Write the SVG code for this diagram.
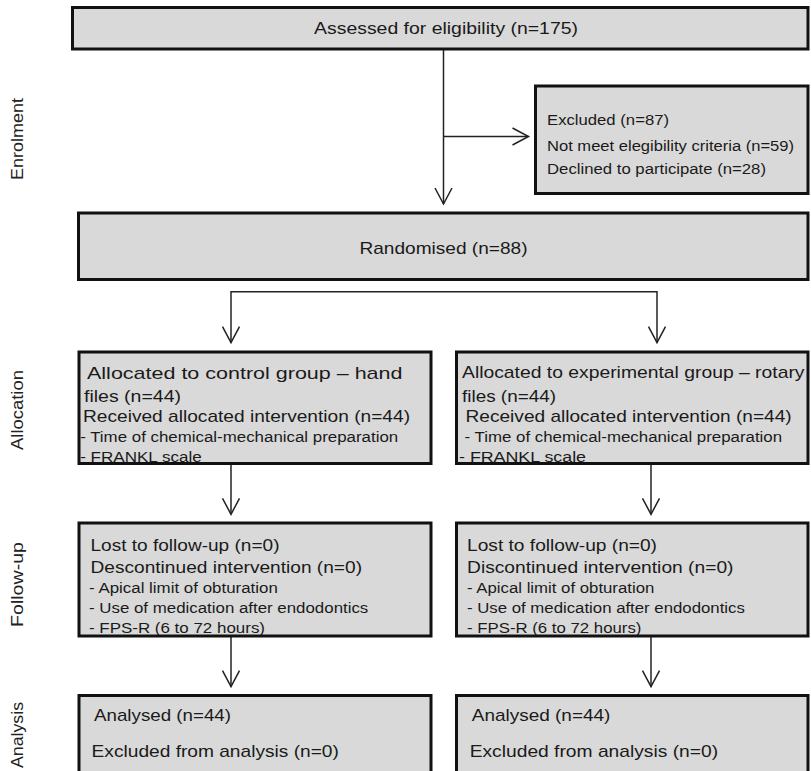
<svg xmlns="http://www.w3.org/2000/svg" width="811" height="771" viewBox="0 0 811 771">
<defs>
<style>
.bg{fill:#ffffff}
.fill{fill:#d9d9d9;stroke:none}
.frame{fill:none;stroke:#111111;stroke-width:3}
text{font-family:"Liberation Sans",Arial,sans-serif;fill:#1a1a1a}
.m{font-size:17px}
.s{font-size:14px}
.side{font-size:17px;fill:#222222}
.conn{fill:none;stroke:#222222;stroke-width:1.5}
</style>
<marker id="arr" viewBox="-18 -10 20 20" refX="0" refY="0" markerWidth="20" markerHeight="20" markerUnits="userSpaceOnUse" orient="auto">
<path d="M-16,-8.5 L0,0 L-16,8.5" fill="none" stroke="#222222" stroke-width="1.5"/>
</marker>
</defs>
<rect class="bg" x="0" y="0" width="811" height="771"/>

<g id="side-labels">
<text class="side" transform="translate(23,139) rotate(-90)" text-anchor="middle" textLength="82" lengthAdjust="spacingAndGlyphs">Enrolment</text>
<text class="side" transform="translate(23,410) rotate(-90)" text-anchor="middle" textLength="80" lengthAdjust="spacingAndGlyphs">Allocation</text>
<text class="side" transform="translate(23,584.5) rotate(-90)" text-anchor="middle" textLength="85" lengthAdjust="spacingAndGlyphs">Follow-up</text>
<text class="side" transform="translate(23,735) rotate(-90)" text-anchor="middle" textLength="66" lengthAdjust="spacingAndGlyphs">Analysis</text>
</g>

<g id="connectors">
<line class="conn" x1="443.5" y1="50" x2="443.5" y2="204" marker-end="url(#arr)"/>
<line class="conn" x1="443.5" y1="136.5" x2="528.5" y2="136.5" marker-end="url(#arr)"/>
<line class="conn" x1="231" y1="291.7" x2="657" y2="291.7"/>
<line class="conn" x1="231" y1="291" x2="231" y2="342.7" marker-end="url(#arr)"/>
<line class="conn" x1="657" y1="291" x2="657" y2="342.7" marker-end="url(#arr)"/>
<line class="conn" x1="231" y1="464" x2="231" y2="514.3" marker-end="url(#arr)"/>
<line class="conn" x1="651" y1="464" x2="651" y2="514.3" marker-end="url(#arr)"/>
<line class="conn" x1="231" y1="637" x2="231" y2="686.7" marker-end="url(#arr)"/>
<line class="conn" x1="651" y1="637" x2="651" y2="686.7" marker-end="url(#arr)"/>
</g>

<g id="assessed">
<rect class="fill" x="72.5" y="7.5" width="735.5" height="41.5"/>
<text class="m" x="314" y="34" font-size="16.5" textLength="264" lengthAdjust="spacingAndGlyphs">Assessed for eligibility  (n=175)</text>
<rect class="frame" x="72.5" y="7.5" width="735.5" height="41.5"/>
</g>

<g id="excluded">
<rect class="fill" x="535.5" y="86" width="272.5" height="107.5"/>
<text class="s" x="547" y="125" textLength="122" lengthAdjust="spacingAndGlyphs">Excluded (n=87)</text>
<text class="s" x="547" y="151" textLength="247" lengthAdjust="spacingAndGlyphs">Not meet elegibility criteria (n=59)</text>
<text class="s" x="547" y="174" textLength="219" lengthAdjust="spacingAndGlyphs">Declined to participate (n=28)</text>
<rect class="frame" x="535.5" y="86" width="272.5" height="107.5"/>
</g>

<g id="randomised">
<rect class="fill" x="78.5" y="213" width="729.5" height="66.5"/>
<text class="m" x="359.5" y="254" textLength="168" lengthAdjust="spacingAndGlyphs">Randomised (n=88)</text>
<rect class="frame" x="78.5" y="213" width="729.5" height="66.5"/>
</g>

<g id="alloc-control">
<rect class="fill" x="79" y="352" width="352" height="111.5"/>
<text class="m" x="87" y="378.5" textLength="315.5" lengthAdjust="spacingAndGlyphs">Allocated  to  control  group  –  hand</text>
<text class="m" x="84" y="401.5" textLength="97" lengthAdjust="spacingAndGlyphs">files (n=44)</text>
<text class="m" x="83" y="421.5" font-size="18" textLength="327" lengthAdjust="spacingAndGlyphs">Received allocated intervention (n=44)</text>
<text class="s" x="80.2" y="441.5" textLength="318" lengthAdjust="spacingAndGlyphs">- Time of chemical-mechanical preparation</text>
<text class="s" x="80.2" y="461.5" textLength="121.5" lengthAdjust="spacingAndGlyphs">- FRANKL scale</text>
<rect class="frame" x="79" y="352" width="352" height="111.5"/>
</g>

<g id="alloc-experimental">
<rect class="fill" x="456.5" y="352" width="351.5" height="111.5"/>
<text class="m" x="462" y="378" textLength="342.5" lengthAdjust="spacingAndGlyphs">Allocated to experimental group – rotary</text>
<text class="m" x="462" y="401.5" textLength="94" lengthAdjust="spacingAndGlyphs">files (n=44)</text>
<text class="m" x="465.6" y="421.5" font-size="18" textLength="326" lengthAdjust="spacingAndGlyphs">Received  allocated  intervention  (n=44)</text>
<text class="s" x="464.6" y="441.5" textLength="317.5" lengthAdjust="spacingAndGlyphs">- Time of chemical-mechanical preparation</text>
<text class="s" x="459" y="461.5" textLength="127" lengthAdjust="spacingAndGlyphs">- FRANKL scale</text>
<rect class="frame" x="456.5" y="352" width="351.5" height="111.5"/>
</g>

<g id="followup-control">
<rect class="fill" x="79" y="523" width="352" height="113"/>
<text class="m" x="90.5" y="550.7" textLength="189" lengthAdjust="spacingAndGlyphs">Lost to follow-up (n=0)</text>
<text class="m" x="90.5" y="573.3" textLength="271.5" lengthAdjust="spacingAndGlyphs">Descontinued  intervention  (n=0)</text>
<text class="s" x="89" y="593.3" textLength="188.8" lengthAdjust="spacingAndGlyphs">- Apical limit of obturation</text>
<text class="s" x="89" y="613.3" textLength="279.3" lengthAdjust="spacingAndGlyphs">- Use of medication after endodontics</text>
<text class="s" x="89" y="633.3" textLength="176" lengthAdjust="spacingAndGlyphs">- FPS-R (6 to 72 hours)</text>
<rect class="frame" x="79" y="523" width="352" height="113"/>
</g>

<g id="followup-experimental">
<rect class="fill" x="456.5" y="523" width="351.5" height="113"/>
<text class="m" x="467" y="550.7" textLength="190" lengthAdjust="spacingAndGlyphs">Lost to follow-up (n=0)</text>
<text class="m" x="467" y="573.3" textLength="266.5" lengthAdjust="spacingAndGlyphs">Discontinued  intervention  (n=0)</text>
<text class="s" x="467" y="593.3" textLength="187.3" lengthAdjust="spacingAndGlyphs">- Apical limit of obturation</text>
<text class="s" x="467" y="613.3" textLength="277.8" lengthAdjust="spacingAndGlyphs">- Use of medication after endodontics</text>
<text class="s" x="467" y="633.3" textLength="174.4" lengthAdjust="spacingAndGlyphs">- FPS-R (6 to 72 hours)</text>
<rect class="frame" x="456.5" y="523" width="351.5" height="113"/>
</g>

<g id="analysis-control">
<rect class="fill" x="79" y="695.5" width="352" height="90"/>
<text class="m" x="94" y="721" font-size="17.5" textLength="137" lengthAdjust="spacingAndGlyphs">Analysed (n=44)</text>
<text class="m" x="91.6" y="757.3" font-size="17.5" textLength="247.3" lengthAdjust="spacingAndGlyphs">Excluded from analysis (n=0)</text>
<rect class="frame" x="79" y="695.5" width="352" height="90"/>
</g>

<g id="analysis-experimental">
<rect class="fill" x="456.5" y="695.5" width="351.5" height="90"/>
<text class="m" x="471.8" y="721" font-size="17.5" textLength="138.6" lengthAdjust="spacingAndGlyphs">Analysed (n=44)</text>
<text class="m" x="469.7" y="757.3" font-size="17.5" textLength="248.4" lengthAdjust="spacingAndGlyphs">Excluded from analysis (n=0)</text>
<rect class="frame" x="456.5" y="695.5" width="351.5" height="90"/>
</g>
</svg>
